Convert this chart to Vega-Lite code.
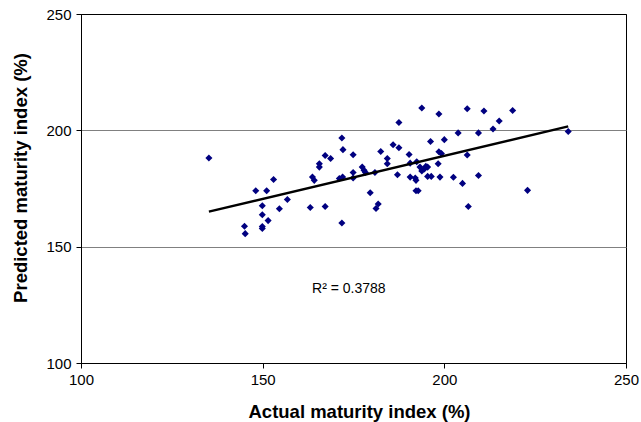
{
  "$schema": "https://vega.github.io/schema/vega-lite/v6.json",
  "autosize": "none",
  "width": 545,
  "height": 349,
  "padding": {"left": 81, "top": 14, "right": 15, "bottom": 59},
  "background": "white",
  "config": {
    "font": "Liberation Sans",
    "view": {"stroke": "black", "strokeWidth": 1}
  },
  "data": {
    "values": [
      {"actual": 135.2, "predicted": 188.1},
      {"actual": 153.0, "predicted": 178.9},
      {"actual": 148.1, "predicted": 174.0},
      {"actual": 151.1, "predicted": 174.0},
      {"actual": 156.8, "predicted": 170.3},
      {"actual": 149.9, "predicted": 167.6},
      {"actual": 154.6, "predicted": 166.3},
      {"actual": 149.9, "predicted": 163.7},
      {"actual": 151.5, "predicted": 161.2},
      {"actual": 149.9, "predicted": 158.7},
      {"actual": 149.9, "predicted": 157.8},
      {"actual": 145.0, "predicted": 158.8},
      {"actual": 145.2, "predicted": 155.6},
      {"actual": 193.8, "predicted": 209.6},
      {"actual": 198.5, "predicted": 207.0},
      {"actual": 187.5, "predicted": 203.4},
      {"actual": 171.8, "predicted": 196.7},
      {"actual": 185.9, "predicted": 193.8},
      {"actual": 187.5, "predicted": 192.5},
      {"actual": 196.2, "predicted": 195.2},
      {"actual": 200.0, "predicted": 196.0},
      {"actual": 172.1, "predicted": 191.7},
      {"actual": 182.5, "predicted": 190.9},
      {"actual": 174.9, "predicted": 189.5},
      {"actual": 167.2, "predicted": 189.2},
      {"actual": 168.7, "predicted": 187.9},
      {"actual": 190.3, "predicted": 189.6},
      {"actual": 198.5, "predicted": 190.8},
      {"actual": 199.2, "predicted": 190.0},
      {"actual": 184.3, "predicted": 187.9},
      {"actual": 184.3, "predicted": 185.6},
      {"actual": 165.6, "predicted": 185.6},
      {"actual": 165.6, "predicted": 184.2},
      {"actual": 190.6, "predicted": 185.9},
      {"actual": 192.4, "predicted": 186.5},
      {"actual": 198.3, "predicted": 185.6},
      {"actual": 177.4, "predicted": 184.2},
      {"actual": 177.9, "predicted": 182.8},
      {"actual": 178.3, "predicted": 181.9},
      {"actual": 174.9, "predicted": 181.9},
      {"actual": 180.9, "predicted": 181.9},
      {"actual": 193.3, "predicted": 184.2},
      {"actual": 194.9, "predicted": 184.5},
      {"actual": 195.4, "predicted": 184.2},
      {"actual": 193.8, "predicted": 182.5},
      {"actual": 194.5, "predicted": 183.4},
      {"actual": 187.1, "predicted": 180.9},
      {"actual": 190.6, "predicted": 179.9},
      {"actual": 192.0, "predicted": 179.5},
      {"actual": 192.2, "predicted": 178.5},
      {"actual": 195.4, "predicted": 180.2},
      {"actual": 196.4, "predicted": 180.2},
      {"actual": 198.8, "predicted": 179.9},
      {"actual": 163.7, "predicted": 179.9},
      {"actual": 164.2, "predicted": 178.5},
      {"actual": 171.1, "predicted": 179.3},
      {"actual": 172.0, "predicted": 179.9},
      {"actual": 174.9, "predicted": 179.5},
      {"actual": 192.2, "predicted": 174.0},
      {"actual": 192.8, "predicted": 174.0},
      {"actual": 179.6, "predicted": 173.2},
      {"actual": 163.1, "predicted": 166.8},
      {"actual": 167.2, "predicted": 167.3},
      {"actual": 181.8, "predicted": 168.3},
      {"actual": 181.2, "predicted": 166.4},
      {"actual": 171.8, "predicted": 160.2},
      {"actual": 206.3, "predicted": 209.3},
      {"actual": 210.9, "predicted": 208.3},
      {"actual": 218.8, "predicted": 208.5},
      {"actual": 215.1, "predicted": 204.0},
      {"actual": 213.4, "predicted": 200.6},
      {"actual": 203.8, "predicted": 198.9},
      {"actual": 209.4, "predicted": 198.9},
      {"actual": 234.1, "predicted": 199.5},
      {"actual": 206.3, "predicted": 189.4},
      {"actual": 202.5, "predicted": 179.8},
      {"actual": 205.0, "predicted": 177.2},
      {"actual": 209.4, "predicted": 180.6},
      {"actual": 222.9, "predicted": 174.2},
      {"actual": 206.6, "predicted": 167.3}
    ]
  },
  "encoding": {
    "x": {
      "field": "actual", "type": "quantitative",
      "scale": {"domain": [100, 250], "nice": false, "zero": false},
      "axis": {
        "title": "Actual maturity index (%)",
        "values": [100, 150, 200, 250],
        "grid": false,
        "domainColor": "black", "tickColor": "black",
        "tickSize": 5, "labelPadding": 4,
        "labelFontSize": 15, "labelColor": "black", "labelFlush": false,
        "titleFontSize": 18.5, "titleFontWeight": "bold", "titleColor": "black",
        "titleX": 278, "titleY": 54, "titleBaseline": "alphabetic", "titleAlign": "center"
      }
    },
    "y": {
      "field": "predicted", "type": "quantitative",
      "scale": {"domain": [100, 250], "nice": false, "zero": false},
      "axis": {
        "title": "Predicted maturity index (%)",
        "values": [100, 150, 200, 250],
        "grid": true,
        "gridColor": {"condition": {"test": "datum.value == 150 || datum.value == 200", "value": "#808080"}, "value": "black"},
        "gridOpacity": 1,
        "domainColor": "black", "tickColor": "black",
        "tickSize": 5, "labelPadding": 5,
        "labelFontSize": 15, "labelColor": "black", "labelFlush": false,
        "titleFontSize": 18.5, "titleFontWeight": "bold", "titleColor": "black",
        "titleX": -55, "titleY": 163.5, "titleAngle": -90, "titleBaseline": "alphabetic", "titleAlign": "center"
      }
    }
  },
  "layer": [
    {
      "mark": {"type": "point", "shape": "diamond", "filled": true, "color": "#000080", "size": 50, "opacity": 1}
    },
    {
      "transform": [{"regression": "predicted", "on": "actual"}],
      "mark": {"type": "line", "color": "black", "strokeWidth": 2.5}
    },
    {
      "data": {"values": [{"actual": 163.6, "predicted": 131.8, "label": "R² = 0.3788"}]},
      "mark": {"type": "text", "align": "left", "baseline": "middle", "fontSize": 14, "color": "black"},
      "encoding": {"text": {"field": "label"}}
    }
  ]
}
